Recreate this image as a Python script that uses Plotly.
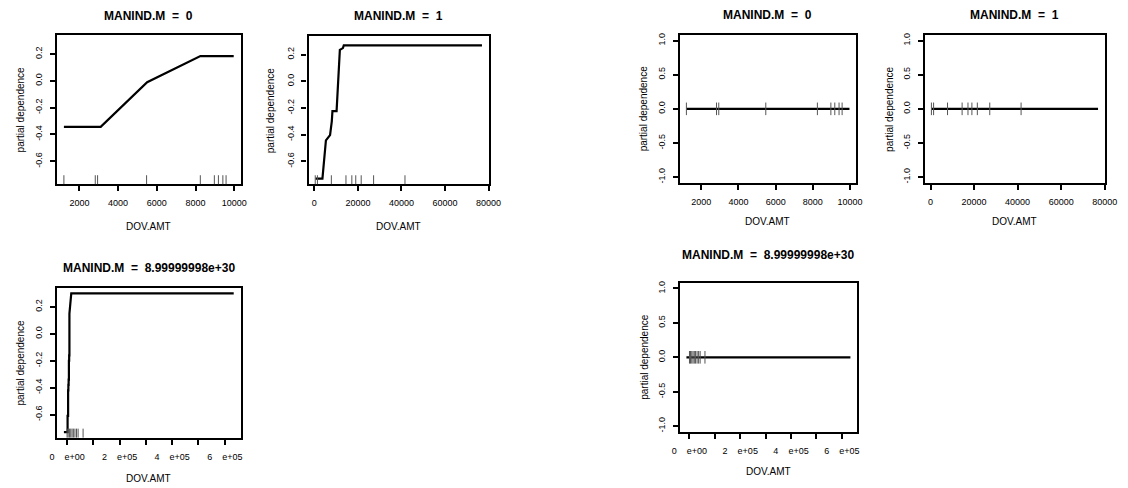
import plotly.graph_objects as go

# ---- data -------------------------------------------------------------
# DOV.AMT grid and partial dependence for each MANIND.M level (model A)
grid_m0 = [1200, 3100, 5500, 8250, 9970]
pd_m0 = [-0.343, -0.343, -0.01, 0.185, 0.185]

grid_m1 = [540, 3700, 5300, 7200, 8000, 8300, 10200, 11700, 13100, 13500, 76950]
pd_m1 = [-0.73, -0.73, -0.443, -0.403, -0.30, -0.224, -0.224, 0.236, 0.249, 0.269, 0.269]

grid_mna = [-12000, 2000, 2000, 4000, 4000, 5000, 5000, 6000, 6000, 7000, 7000,
            8000, 8000, 9000, 9000, 14000, 16000, 634000]
pd_mna = [-0.73, -0.73, -0.61, -0.61, -0.42, -0.42, -0.38, -0.38, -0.34, -0.34, -0.20,
          -0.20, -0.16, -0.16, 0.15, 0.26, 0.30, 0.30]

# model B: flat partial dependence over the same DOV.AMT span
flat_x_m0 = [1200, 9970]
flat_x_m1 = [540, 76950]
flat_x_mna = [-12000, 634000]
flat_pd = [0.0, 0.0]

# observed DOV.AMT values (rug)
rug_m0 = [1200, 2820, 2940, 5470, 8245, 8970, 9180, 9410, 9575]
rug_m1 = [400, 1400, 7800, 14500, 17200, 19000, 21500, 27200, 41600]
rug_mna = [0, 4000, 9000, 14000, 19000, 24000, 30000, 36000, 42000, 61000]

# panel titles and axis labels
titles = ["MANIND.M\u00a0 =\u00a0 0", "MANIND.M\u00a0 =\u00a0 1",
          "MANIND.M\u00a0 =\u00a0 8.99999998e+30"]
x_label = "DOV.AMT"
y_label = "partial dependence"

xt_m0 = [2000, 4000, 6000, 8000, 10000]
xl_m0 = ["2000", "4000", "6000", "8000", "10000"]
xt_m1 = [0, 20000, 40000, 60000, 80000]
xl_m1 = ["0", "20000", "40000", "60000", "80000"]
xt_mna = [0, 100000, 200000, 300000, 400000, 500000, 600000]
xl_mna = ["0\u00a0\u00a0\u00a0\u00a0e+00", "", "2\u00a0\u00a0\u00a0\u00a0e+05", "",
          "4\u00a0\u00a0\u00a0\u00a0e+05", "", "6\u00a0\u00a0\u00a0\u00a0e+05"]
yt_a = [-0.6, -0.4, -0.2, 0.0, 0.2]
yl_a = ["-0.6", "-0.4", "-0.2", "0.0", "0.2"]
yt_b = [-1.0, -0.5, 0.0, 0.5, 1.0]
yl_b = ["-1.0", "-0.5", "0.0", "0.5", "1.0"]

# ---- layout helpers ---------------------------------------------------
W, H = 1128, 488
FONT = "Liberation Sans, Arial, Helvetica, sans-serif"
RUG = "#555555"


def padded(vals, frac=0.04):
    lo, hi = min(vals), max(vals)
    span = hi - lo if hi > lo else 1.0
    return [lo - frac * span, hi + frac * span]


# frame boxes in pixels: (left, top, right, bottom)
boxes = [
    (50, 33.3, 236.7, 183.3),
    (306, 34, 489.3, 183.3),
    (50, 287.7, 236.7, 438.3),
    (684, 33.3, 863.3, 181.7),
    (933.3, 33.3, 1116.5, 181.7),
    (684, 282.7, 864.3, 432.3),
]
title_y = [14, 14, 268, 13, 13, 255]
xlab_y = [226, 226, 479, 221, 221, 472]
ylab_x = [13, 268, 13, 647, 898, 648]

fig = go.Figure()

panels = [
    dict(x=grid_m0, y=pd_m0, rug=rug_m0, xt=xt_m0, xl=xl_m0, grp="a"),
    dict(x=grid_m1, y=pd_m1, rug=rug_m1, xt=xt_m1, xl=xl_m1, grp="a"),
    dict(x=grid_mna, y=pd_mna, rug=rug_mna, xt=xt_mna, xl=xl_mna, grp="a"),
    dict(x=flat_x_m0, y=flat_pd, rug=rug_m0, xt=xt_m0, xl=xl_m0, grp="b"),
    dict(x=flat_x_m1, y=flat_pd, rug=rug_m1, xt=xt_m1, xl=xl_m1, grp="b"),
    dict(x=flat_x_mna, y=flat_pd, rug=rug_mna, xt=xt_mna, xl=xl_mna, grp="b"),
]

yrange_a = padded(pd_m0 + pd_m1 + pd_mna)
yrange_b = [-1.08, 1.08]

annotations = []
shapes = []
for i, p in enumerate(panels):
    n = i + 1
    xa = "x" if n == 1 else f"x{n}"
    ya = "y" if n == 1 else f"y{n}"
    l, t, r, b = boxes[i]
    fig.add_trace(go.Scatter(
        x=p["x"], y=p["y"], mode="lines", xaxis=xa, yaxis=ya,
        line=dict(color="black", width=2.2), showlegend=False, hoverinfo="skip"))
    if p["grp"] == "b":
        # rug drawn as "|" symbols on the flat line
        fig.add_trace(go.Scatter(
            x=p["rug"], y=[0.0] * len(p["rug"]), mode="markers", xaxis=xa, yaxis=ya,
            marker=dict(symbol="line-ns-open", size=9, color=RUG,
                        line=dict(color=RUG, width=1)),
            showlegend=False, hoverinfo="skip"))
    else:
        for v in p["rug"]:
            shapes.append(dict(type="line", xref=xa, yref=f"{ya} domain",
                               x0=v, x1=v, y0=0, y1=0.06,
                               line=dict(color=RUG, width=1)))

    xr = padded(p["x"] + p["rug"])
    yr = yrange_a if p["grp"] == "a" else yrange_b
    yt, yl = (yt_a, yl_a) if p["grp"] == "a" else (yt_b, yl_b)
    common = dict(showline=True, linecolor="black", linewidth=2.4, mirror=True,
                  ticks="outside", ticklen=5, tickwidth=1.8, tickcolor="black",
                  showgrid=False, zeroline=False,
                  tickfont=dict(family=FONT, size=9, color="black"))
    fig.layout[f"xaxis{'' if n == 1 else n}"] = dict(
        domain=[l / W, r / W], anchor=ya, range=xr,
        tickmode="array", tickvals=p["xt"], ticktext=p["xl"],
        ticklabelstandoff=4, **common)
    fig.layout[f"yaxis{'' if n == 1 else n}"] = dict(
        domain=[1 - b / H, 1 - t / H], anchor=xa, range=yr,
        tickmode="array", tickvals=yt, ticktext=yl, tickangle=-90,
        ticklabelstandoff=4, **common)

    cx = (l + r) / 2 / W
    annotations.append(dict(text=f"<b>{titles[i % 3]}</b>", x=cx, y=1 - title_y[i] / H,
                            xref="paper", yref="paper", showarrow=False,
                            xanchor="center", yanchor="middle",
                            font=dict(family=FONT, size=12, color="black")))
    annotations.append(dict(text=x_label, x=cx, y=1 - xlab_y[i] / H,
                            xref="paper", yref="paper", showarrow=False,
                            xanchor="center", yanchor="middle",
                            font=dict(family=FONT, size=10, color="black")))
    annotations.append(dict(text=y_label, x=ylab_x[i] / W, y=1 - (t + b) / 2 / H,
                            xref="paper", yref="paper", showarrow=False,
                            textangle=-90, xanchor="center", yanchor="middle",
                            font=dict(family=FONT, size=10, color="black")))

fig.update_layout(
    width=W, height=H, margin=dict(l=0, r=0, t=0, b=0),
    paper_bgcolor="white", plot_bgcolor="white",
    annotations=annotations, shapes=shapes,
)

fig.write_html("out.html")
